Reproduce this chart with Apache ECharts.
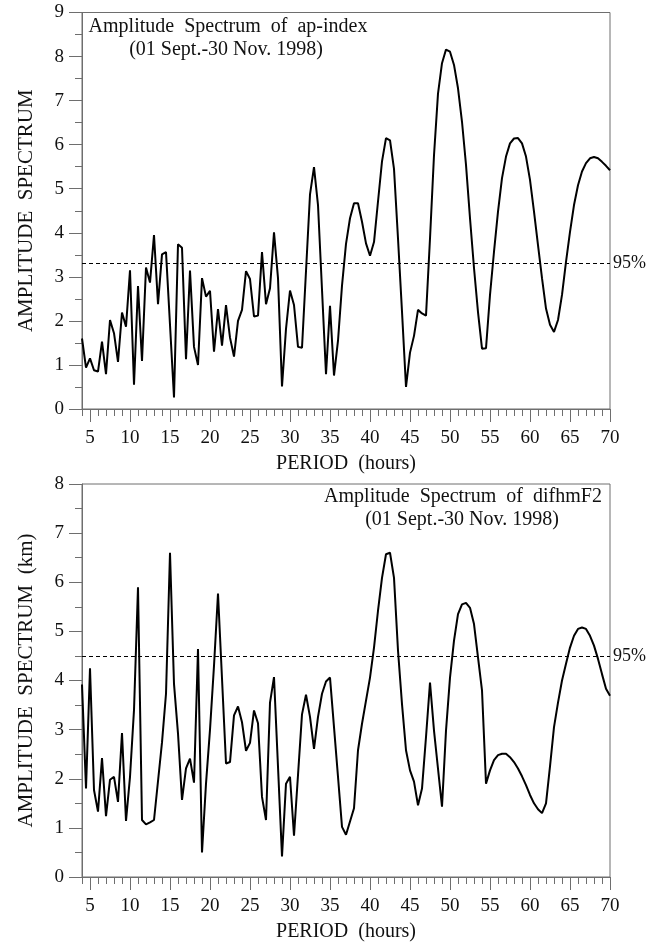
<!DOCTYPE html>
<html>
<head>
<meta charset="utf-8">
<script src="https://cdn.jsdelivr.net/npm/echarts@6/dist/echarts.min.js"></script>
<style>
  html, body { margin: 0; padding: 0; background: #fff; }
  #chart { width: 659px; height: 943px; }
</style>
</head>
<body>
<div id="chart"></div>
<script>
// periods (hours) and amplitudes
const apPeriod = [4.0, 4.5, 5.0, 5.5, 6.0, 6.5, 7.0, 7.5, 8.0, 8.5, 9.0, 9.5, 10.0, 10.5, 11.0, 11.5, 12.0, 12.5, 13.0, 13.5,
  14.0, 14.5, 15.5, 16.0, 16.5, 17.0, 17.5, 18.0, 18.5, 19.0, 19.5, 20.0, 20.5, 21.0, 21.5, 22.0, 22.5, 23.0, 23.5, 24.0,
  24.5, 25.0, 25.5, 26.0, 26.5, 27.0, 27.5, 28.0, 28.5, 29.0, 29.5, 30.0, 30.5, 31.0, 31.5, 32.5, 33.0, 33.5, 34.5, 35.0,
  35.5, 36.0, 36.5, 37.0, 37.5, 38.0, 38.5, 39.0, 39.5, 40.0, 40.5, 41.0, 41.5, 42.0, 42.5, 43.0, 43.5, 44.0, 44.5, 45.0,
  45.5, 46.0, 46.5, 47.0, 47.5, 48.0, 48.5, 49.0, 49.5, 50.0, 50.5, 51.0, 51.5, 52.0, 52.5, 53.0, 53.5, 54.0, 54.5, 55.0,
  55.5, 56.0, 56.5, 57.0, 57.5, 58.0, 58.5, 59.0, 59.5, 60.0, 60.5, 61.0, 61.5, 62.0, 62.5, 63.0, 63.5, 64.0, 64.5, 65.0,
  65.5, 66.0, 66.5, 67.0, 67.5, 68.0, 68.5, 69.0, 69.5, 70.0];
const apAmp = [1.60, 0.94, 1.15, 0.88, 0.85, 1.53, 0.79, 2.02, 1.72, 1.07, 2.19, 1.87, 3.15, 0.55, 2.79, 1.09, 3.21, 2.87, 3.95, 2.38,
  3.51, 3.56, 0.26, 3.74, 3.66, 1.13, 3.14, 1.41, 1.00, 2.97, 2.55, 2.68, 1.30, 2.27, 1.44, 2.36, 1.62, 1.19, 2.00, 2.25,
  3.13, 2.95, 2.10, 2.12, 3.56, 2.38, 2.74, 4.01, 2.97, 0.51, 1.82, 2.69, 2.36, 1.41, 1.39, 4.87, 5.49, 4.63, 0.79, 2.34,
  0.76, 1.55, 2.80, 3.75, 4.33, 4.67, 4.67, 4.25, 3.76, 3.48, 3.79, 4.71, 5.62, 6.15, 6.10, 5.45, 3.87, 2.21, 0.50, 1.28,
  1.66, 2.25, 2.17, 2.12, 3.87, 5.76, 7.16, 7.85, 8.16, 8.11, 7.81, 7.28, 6.52, 5.54, 4.33, 3.20, 2.20, 1.37, 1.38, 2.59,
  3.57, 4.48, 5.24, 5.73, 6.03, 6.14, 6.15, 6.03, 5.73, 5.20, 4.48, 3.72, 2.97, 2.28, 1.91, 1.75, 2.02, 2.59, 3.34, 4.02,
  4.63, 5.08, 5.39, 5.58, 5.69, 5.72, 5.69, 5.61, 5.52, 5.42];

const hmPeriod = [4.0, 4.5, 5.0, 5.5, 6.0, 6.5, 7.0, 7.5, 8.0, 8.5, 9.0, 9.5, 10.0, 10.5, 11.0, 11.5, 12.0, 12.5, 13.0, 14.0,
  14.5, 15.0, 15.5, 16.0, 16.5, 17.0, 17.5, 18.0, 18.5, 19.0, 19.5, 20.0, 20.5, 21.0, 22.0, 22.5, 23.0, 23.5, 24.0, 24.5,
  25.0, 25.5, 26.0, 26.5, 27.0, 27.5, 28.0, 29.0, 29.5, 30.0, 30.5, 31.5, 32.0, 32.5, 33.0, 33.5, 34.0, 34.5, 35.0, 35.5,
  36.0, 36.5, 37.0, 37.5, 38.0, 38.5, 39.0, 39.5, 40.0, 40.5, 41.0, 41.5, 42.0, 42.5, 43.0, 43.5, 44.0, 44.5, 45.0, 45.5,
  46.0, 46.5, 47.0, 47.5, 48.0, 49.0, 49.5, 50.0, 50.5, 51.0, 51.5, 52.0, 52.5, 53.0, 53.5, 54.0, 54.5, 55.0, 55.5, 56.0,
  56.5, 57.0, 57.5, 58.0, 58.5, 59.0, 59.5, 60.0, 60.5, 61.0, 61.5, 62.0, 62.5, 63.0, 63.5, 64.0, 64.5, 65.0, 65.5, 66.0,
  66.5, 67.0, 67.5, 68.0, 68.5, 69.0, 69.5, 70.0];
const hmAmp = [3.92, 1.80, 4.25, 1.77, 1.33, 2.42, 1.24, 1.98, 2.04, 1.53, 2.93, 1.14, 2.04, 3.40, 5.90, 1.16, 1.07, 1.11, 1.16, 2.74,
  3.73, 6.60, 3.93, 2.92, 1.57, 2.21, 2.41, 1.92, 4.64, 0.50, 1.90, 3.00, 4.30, 5.77, 2.31, 2.34, 3.29, 3.47, 3.15, 2.57,
  2.73, 3.39, 3.13, 1.63, 1.16, 3.55, 4.07, 0.42, 1.90, 2.04, 0.84, 3.31, 3.71, 3.26, 2.61, 3.26, 3.73, 3.98, 4.06, 3.05,
  2.04, 1.02, 0.86, 1.13, 1.40, 2.58, 3.12, 3.59, 4.06, 4.67, 5.42, 6.09, 6.57, 6.60, 6.09, 4.61, 3.52, 2.58, 2.17, 1.94,
  1.46, 1.80, 2.85, 3.96, 2.98, 1.43, 2.98, 4.06, 4.81, 5.35, 5.55, 5.58, 5.48, 5.15, 4.47, 3.80, 1.90, 2.17, 2.38, 2.48,
  2.51, 2.51, 2.44, 2.34, 2.21, 2.05, 1.87, 1.67, 1.50, 1.38, 1.30, 1.50, 2.25, 3.05, 3.55, 4.00, 4.34, 4.67, 4.91, 5.05,
  5.08, 5.05, 4.91, 4.71, 4.44, 4.13, 3.83, 3.69];

const apLevel95 = 3.3;
const hmLevel95 = 4.5;
const xMajorTicks = [5, 10, 15, 20, 25, 30, 35, 40, 45, 50, 55, 60, 65, 70];

const FONT = 'Liberation Serif';
const AXIS_COLOR = '#6e6e6e';

const zip = (xs, ys) => xs.map((x, i) => [x, ys[i]]);

const chart = echarts.init(document.getElementById('chart'), null, { renderer: 'canvas' });

// two x axes per panel: one carries the unit minor ticks, the other the labelled 5-hour ticks
function xAxesFor(gridIndex) {
  return [
    {
      gridIndex: gridIndex,
      type: 'value',
      position: 'bottom',
      min: 4,
      max: 70,
      interval: 1,
      axisLine: { show: true, lineStyle: { color: AXIS_COLOR, width: 1 } },
      axisTick: { show: true, length: 7, lineStyle: { color: AXIS_COLOR, width: 1 } },
      axisLabel: { show: false },
      splitLine: { show: false }
    },
    {
      gridIndex: gridIndex,
      type: 'value',
      position: 'bottom',
      offset: 0,
      min: 4,
      max: 70,
      axisLine: { show: false },
      axisTick: { show: true, length: 13, customValues: xMajorTicks, lineStyle: { color: AXIS_COLOR, width: 1 } },
      axisLabel: {
        customValues: xMajorTicks,
        fontFamily: FONT, fontSize: 19, color: '#111', margin: 20
      },
      splitLine: { show: false },
      name: 'PERIOD  (hours)',
      nameLocation: 'middle',
      nameGap: 45,
      nameTextStyle: { fontFamily: FONT, fontSize: 20, color: '#111' }
    }
  ];
}

function yAxisFor(gridIndex, maxVal, title) {
  return {
    gridIndex: gridIndex,
    type: 'value',
    position: 'left',
    min: 0,
    max: maxVal,
    interval: 1,
    axisLine: { show: true, lineStyle: { color: AXIS_COLOR, width: 1 } },
    axisTick: { show: true, length: 13, lineStyle: { color: AXIS_COLOR, width: 1 } },
    minorTick: { show: true, splitNumber: 2, length: 7, lineStyle: { color: AXIS_COLOR, width: 1 } },
    axisLabel: { fontFamily: FONT, fontSize: 19, color: '#111', margin: 18 },
    splitLine: { show: false },
    name: title,
    nameLocation: 'middle',
    nameGap: 45,
    nameTextStyle: { fontFamily: FONT, fontSize: 21, color: '#111' }
  };
}

function spectrumSeries(xAxisIndex, yAxisIndex, data, level) {
  return {
    type: 'line',
    xAxisIndex: xAxisIndex,
    yAxisIndex: yAxisIndex,
    data: data,
    symbol: 'none',
    lineStyle: { color: '#000', width: 2 },
    markLine: {
      silent: true,
      symbol: ['none', 'none'],
      lineStyle: { color: '#000', width: 1, type: [4, 3] },
      label: { show: true, position: 'end', formatter: '95%', fontFamily: FONT, fontSize: 18, color: '#111', distance: 3 },
      data: [{ yAxis: level }]
    }
  };
}

function titleText(x, y, text) {
  return {
    type: 'text',
    x: x,
    y: y,
    silent: true,
    style: {
      text: text,
      font: '20px "' + FONT + '"',
      fill: '#111',
      align: 'center',
      verticalAlign: 'middle',
      textAlign: 'center',
      textVerticalAlign: 'middle'
    }
  };
}

chart.setOption({
  animation: false,
  backgroundColor: '#fff',
  grid: [
    { left: 82, top: 12.5, width: 528, height: 396.5, show: true, borderColor: AXIS_COLOR, borderWidth: 1 },
    { left: 82, top: 484, width: 528, height: 394.5, show: true, borderColor: AXIS_COLOR, borderWidth: 1 }
  ],
  xAxis: xAxesFor(0).concat(xAxesFor(1)),
  yAxis: [
    yAxisFor(0, 9, 'AMPLITUDE  SPECTRUM'),
    yAxisFor(1, 8, 'AMPLITUDE  SPECTRUM  (km)')
  ],
  series: [
    spectrumSeries(0, 0, zip(apPeriod, apAmp), apLevel95),
    spectrumSeries(2, 1, zip(hmPeriod, hmAmp), hmLevel95)
  ],
  graphic: [
    titleText(228, 27, 'Amplitude  Spectrum  of  ap-index'),
    titleText(226, 50, '(01 Sept.-30 Nov. 1998)'),
    titleText(463, 497, 'Amplitude  Spectrum  of  difhmF2'),
    titleText(462, 520, '(01 Sept.-30 Nov. 1998)')
  ]
});
</script>
</body>
</html>
